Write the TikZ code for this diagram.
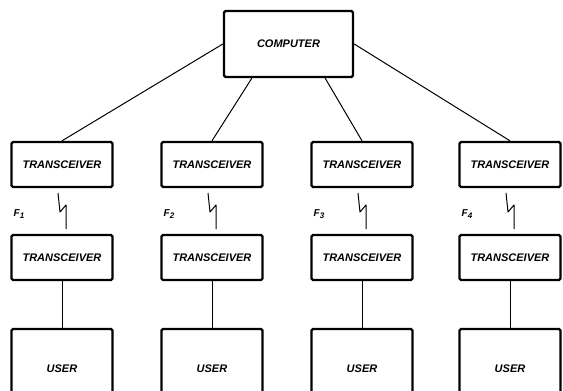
\documentclass[tikz,border=0pt]{standalone}
\usepackage{fontspec}
\setmainfont{Liberation Sans}
\usepackage{tikz}
\usetikzlibrary{positioning,calc}

\begin{document}
\begin{tikzpicture}[
  x=1pt,y=-1pt,
  every node/.style={font=\fontsize{11}{13}\selectfont\bfseries\itshape},
  unit/.style={rectangle,draw,line width=2.4pt,rounded corners=1.5pt,
    minimum width=101pt,minimum height=45pt,inner sep=0pt},
  link/.style={line width=1pt},
  freq/.style={font=\fontsize{10}{12}\selectfont\bfseries\itshape,inner sep=0pt}
]
\useasboundingbox (0,0) rectangle (563,391);
\node[unit,minimum width=129pt,minimum height=66pt] (comp) at (288.5,44) {COMPUTER};
% one column per user channel
\foreach \i/\cx in {1/62,2/212,3/362,4/510}{
  \node[unit] (t\i) at (\cx,164.5) {TRANSCEIVER};
  \node[unit] (r\i) at (\cx,257.5) {TRANSCEIVER};
  \node[unit,minimum height=80pt] (u\i) at (\cx,369) {USER};
  \node[freq] (f\i) at (\cx-43,214) {F\raisebox{-2.5pt}{\fontsize{8}{9}\selectfont\i}};
  \coordinate (z\i) at (\cx,211);
  \draw[link,line join=round] ($(z\i)+(-4,-18)$) -- ($(z\i)+(-2,1)$)
    -- ($(z\i)+(4,-6)$) -- ($(z\i)+(4,18)$);
  \draw[link] (r\i.south) -- (u\i.north);
}
\draw[link] (comp.west) -- (t1.north);
\draw[link] (comp.223) -- (t2.north);
\draw[link] (comp.317) -- (t3.north);
\draw[link] (comp.east) -- (t4.north);
\end{tikzpicture}
\end{document}
